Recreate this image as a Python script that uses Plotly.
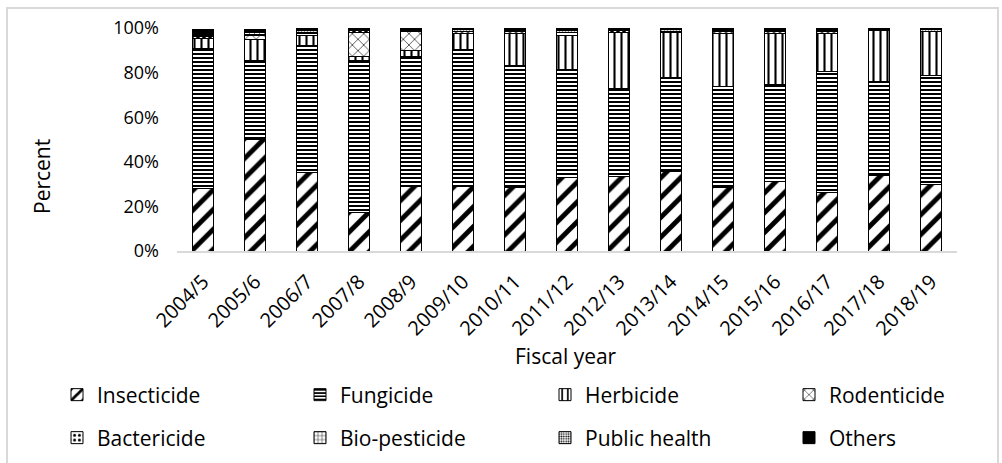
import plotly.graph_objects as go

years = ["2004/5", "2005/6", "2006/7", "2007/8", "2008/9", "2009/10", "2010/11",
         "2011/12", "2012/13", "2013/14", "2014/15", "2015/16", "2016/17", "2017/18", "2018/19"]

insecticide   = [28.0, 49.8, 35.2, 17.1, 29.1, 28.8, 28.3, 33.0, 33.6, 35.5, 28.3, 31.3, 26.2, 33.7, 30.0]
fungicide     = [63.0, 35.5, 56.8, 68.3, 58.3, 61.7, 54.7, 48.2, 39.1, 42.4, 45.4, 43.3, 54.4, 42.4, 48.7]
herbicide     = [4.5, 9.7, 4.5, 2.0, 2.7, 7.2, 14.7, 15.3, 25.3, 19.9, 24.0, 23.1, 17.1, 22.9, 19.8]
rodenticide   = [0.0, 1.5, 0.0, 10.5, 8.2, 0.0, 0.0, 0.0, 0.0, 0.0, 0.0, 0.0, 0.0, 0.0, 0.0]
bactericide   = [0.8, 0.5, 1.0, 1.0, 0.5, 0.8, 0.8, 1.5, 0.8, 0.8, 0.8, 0.8, 0.8, 0.0, 0.0]
biopesticide  = [0.5, 0.8, 0.5, 0.0, 0.0, 0.0, 0.0, 0.0, 0.0, 0.0, 0.0, 0.0, 0.0, 0.0, 0.0]
publichealth  = [0.5, 0.5, 0.8, 0.5, 0.5, 0.7, 0.5, 0.8, 0.6, 0.6, 0.5, 0.5, 0.5, 0.4, 1.0]
others        = [2.2, 1.2, 1.2, 0.6, 0.7, 0.8, 1.0, 1.2, 0.6, 0.8, 1.0, 1.0, 1.0, 0.6, 0.5]

yticks = [0, 20, 40, 60, 80, 100]

FONT = "Open Sans"

# pixel geometry helpers
W, H = 1002, 463
L, R, T, B = 177, 45, 28, 212
pw, ph = W - L - R, H - T - B

def px_x(x):
    return (x - L) / pw

def px_y(y):
    return (H - B - y) / ph

series = [
    ("Insecticide", insecticide, dict(shape="/", size=14, solidity=0.35)),
    ("Fungicide", fungicide, dict(shape="-", size=4, solidity=0.5)),
    ("Herbicide", herbicide, dict(shape="|", size=7, solidity=0.3)),
    ("Rodenticide", rodenticide, dict(shape="x", size=8, solidity=0.15)),
    ("Bactericide", bactericide, dict(shape=".", size=6, solidity=0.3)),
    ("Bio-pesticide", biopesticide, dict(shape="+", size=5, solidity=0.2)),
    ("Public health", publichealth, dict(shape=".", size=3, solidity=0.4)),
    ("Others", others, None),
]

# legend text start columns / row centers (pixels)
leg_cols = [97, 340, 585, 829]
leg_rows = [395, 438]

fig = go.Figure()
legend_layouts = {}
for i, (name, vals, pat) in enumerate(series):
    if pat is None:
        marker = dict(color="black", line=dict(color="black", width=1))
    else:
        p = dict(pat)
        p.update(fgcolor="black", bgcolor="white", fillmode="replace")
        marker = dict(color="white", pattern=p, line=dict(color="black", width=1))
    lname = "legend" if i == 0 else f"legend{i + 1}"
    fig.add_trace(go.Bar(x=years, y=vals, name=name, marker=marker, legend=lname))
    col, row = i % 4, i // 4
    legend_layouts[lname] = dict(
        orientation="h", x=px_x(leg_cols[col] - 40), y=px_y(leg_rows[row]),
        xanchor="left", yanchor="middle", font=dict(size=21),
        bgcolor="rgba(0,0,0,0)", borderwidth=0,
    )

fig.update_layout(
    width=W, height=H,
    barmode="stack",
    bargap=0.59,
    plot_bgcolor="white", paper_bgcolor="white",
    margin=dict(l=L, r=R, t=T, b=B, autoexpand=False),
    font=dict(family=FONT, size=18, color="#000000"),
    xaxis=dict(
        tickangle=-45, showline=True, linecolor="#d9d9d9", linewidth=2,
        ticks="", tickfont=dict(size=20), showgrid=False, ticklabelstandoff=9,
        automargin=False,
    ),
    yaxis=dict(
        range=[0, 100], tickvals=yticks, ticktext=[f"{v}%" for v in yticks],
        showgrid=False, zeroline=False, showline=False, ticks="",
        ticklabelstandoff=17, tickfont=dict(size=18), automargin=False,
    ),
    showlegend=True,
    **legend_layouts,
)

fig.add_annotation(text="Percent", xref="paper", yref="paper", x=px_x(42), y=px_y(177),
                   textangle=-90, showarrow=False, font=dict(size=21),
                   xanchor="center", yanchor="middle")
fig.add_annotation(text="Fiscal year", xref="paper", yref="paper", x=px_x(566), y=px_y(356),
                   showarrow=False, font=dict(size=21), xanchor="center", yanchor="middle")

fig.add_shape(type="rect", xref="paper", yref="paper",
              x0=px_x(7), x1=px_x(998), y0=px_y(8), y1=px_y(490),
              line=dict(color="#d9d9d9", width=2), fillcolor="rgba(0,0,0,0)", layer="below")

fig.write_html("out.html", config={"displayModeBar": False},
               post_script="document.body.style.margin='0px';document.body.style.overflow='hidden';")
